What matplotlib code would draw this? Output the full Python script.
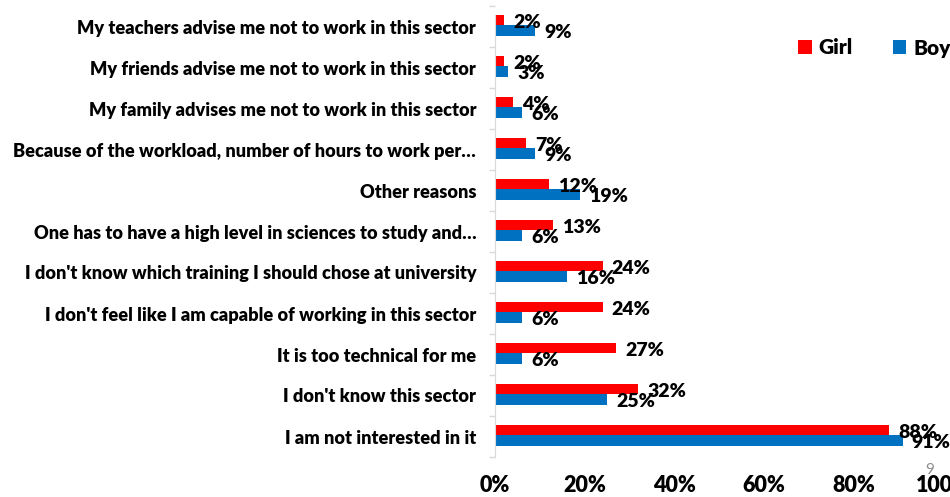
import numpy as np
import matplotlib.pyplot as plt
from matplotlib.ticker import FixedLocator

plt.rcParams['font.family'] = ['Lato', 'DejaVu Sans']
plt.rcParams['font.weight'] = 'bold'

reasons = [
    "My teachers advise me not to work in this sector",
    "My friends advise me not to work in this sector",
    "My family advises me not to work in this sector",
    "Because of the workload, number of hours to work per\u2026",
    "Other reasons",
    "One has to have a high level in sciences to study and\u2026",
    "I don't know which training I should chose at university",
    "I don't feel like I am capable of working in this sector",
    "It is too technical for me",
    "I don't know this sector",
    "I am not interested in it",
]
girl = [2, 2, 4, 7, 12, 13, 24, 24, 27, 32, 88]
boy = [9, 3, 6, 9, 19, 6, 16, 6, 6, 25, 91]

RED = '#FF0000'
BLUE = '#0070C0'

fig = plt.figure(figsize=(9.5, 4.97), dpi=100)
ax = fig.add_axes([495 / 950, 1 - 457 / 497, (943 - 495) / 950, (457 - 6) / 497])

y = np.arange(len(reasons))
h = 0.26
bg = ax.barh(y - h / 2 - 0.03, girl, height=h, color=RED, label='Girl')
bb = ax.barh(y + h / 2 - 0.03, boy, height=h, color=BLUE, label='Boy')

# value labels just past the end of each bar
for bars, vals in ((bg, girl), (bb, boy)):
    for rect, v in zip(bars, vals):
        ax.annotate(f"{v}%", (v, rect.get_y() + rect.get_height() / 2),
                    xytext=(6.5, -1.5), textcoords='offset points',
                    ha='left', va='center', fontsize=14, fontweight='heavy')

ax.set_xlim(0, 100)
ax.set_ylim(len(reasons) - 0.5, -0.5)

ax.set_yticks(y)
ax.set_yticklabels(reasons, fontsize=13.1, fontweight='heavy')
ax.yaxis.set_minor_locator(FixedLocator(np.arange(-0.5, len(reasons), 1.0)))
ax.tick_params(axis='y', which='major', length=0, pad=13.5)
ax.tick_params(axis='y', which='minor', length=4.5, color='#D9D9D9', width=1)

ax.set_xticks(np.arange(0, 101, 20))
ax.set_xticklabels([f"{t}%" for t in range(0, 101, 20)], fontsize=15.5, fontweight='heavy')
ax.tick_params(axis='x', length=0, pad=13)

for s in ('top', 'right', 'bottom'):
    ax.spines[s].set_visible(False)
ax.spines['left'].set_color('#D9D9D9')
ax.spines['left'].set_bounds(len(reasons) - 0.5, -0.28)

leg = fig.legend(handles=[bg, bb], labels=['Girl', 'Boy'], loc='center left',
                 bbox_to_anchor=(798 / 950, 1 - 48 / 497), ncol=2, frameon=False,
                 prop={'size': 15, 'weight': 'heavy'}, handlelength=0.65,
                 handleheight=0.65, handletextpad=0.35, columnspacing=1.9,
                 borderaxespad=0, borderpad=0)

fig.text(930 / 950, 1 - 470 / 497, "9", color='#8C8C8C', fontsize=11,
         fontweight='normal', ha='center', va='center')

fig.savefig('out.png', dpi=100)
